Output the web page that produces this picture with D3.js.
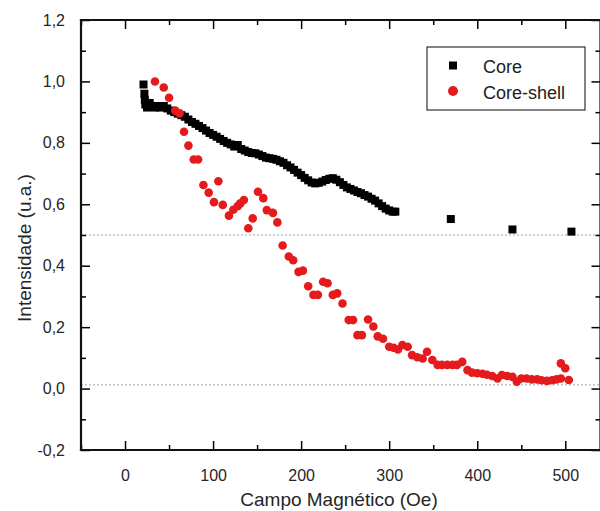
<!DOCTYPE html>
<html>
<head>
<meta charset="utf-8">
<script src="https://cdn.jsdelivr.net/npm/d3@7"></script>
<style>
  body { margin: 0; background: #fff; }
  svg { display: block; font-family: "Liberation Sans", Arial, sans-serif; }
</style>
</head>
<body>
<svg id="chart" width="600" height="511"></svg>
<script>
// Core (squares): [field Oe, intensity]
const coreData = [
  [21, 0.99], [22, 0.96], [22.5, 0.94], [23, 0.925], [25, 0.915], [28, 0.93], [31, 0.92], [34, 0.915],
  [37, 0.92], [40, 0.915], [44, 0.92], [48, 0.912], [52, 0.905], [56, 0.9], [60, 0.895], [64, 0.89],
  [68, 0.885], [72, 0.876], [76, 0.868], [80, 0.862], [84, 0.855], [88, 0.848], [92, 0.84], [96, 0.832],
  [100, 0.826], [104, 0.82], [108, 0.813], [112, 0.806], [116, 0.8], [120, 0.795], [124, 0.788],
  [128, 0.793], [132, 0.78], [136, 0.775], [140, 0.77], [144, 0.767], [148, 0.766], [152, 0.762],
  [156, 0.757], [160, 0.752], [164, 0.75], [168, 0.748], [172, 0.745], [176, 0.74], [180, 0.735],
  [184, 0.727], [188, 0.72], [192, 0.712], [196, 0.703], [200, 0.695], [204, 0.686], [208, 0.678],
  [212, 0.671], [216, 0.668], [220, 0.67], [224, 0.674], [228, 0.679], [232, 0.683], [236, 0.685],
  [240, 0.68], [244, 0.672], [248, 0.663], [252, 0.655], [256, 0.65], [260, 0.645], [264, 0.64],
  [268, 0.636], [272, 0.63], [276, 0.625], [280, 0.618], [284, 0.612], [288, 0.603], [292, 0.594],
  [296, 0.586], [300, 0.58], [304, 0.576], [307, 0.576],
  [370, 0.552], [440, 0.518], [507, 0.511]
];

// Core-shell (circles)
const coreShellData = [
  [34, 1.0], [44, 0.98], [50, 0.947], [57, 0.905], [62, 0.896], [67, 0.836], [72, 0.791],
  [78, 0.746], [83, 0.746], [89, 0.663], [95, 0.638], [101, 0.607], [106, 0.675], [111, 0.598],
  [118, 0.563], [123, 0.582], [128, 0.594], [131, 0.603], [135, 0.614], [140, 0.522], [145, 0.554],
  [151, 0.641], [157, 0.62], [161, 0.581], [168, 0.572], [173, 0.541], [179, 0.466], [186, 0.43],
  [191, 0.418], [197, 0.38], [202, 0.384], [208, 0.333], [214, 0.305], [219, 0.305], [225, 0.348],
  [230, 0.343], [236, 0.305], [241, 0.31], [247, 0.277], [254, 0.223], [259, 0.223], [264, 0.174],
  [269, 0.174], [276, 0.225], [282, 0.202], [287, 0.17], [293, 0.162], [300, 0.136], [305, 0.133],
  [310, 0.127], [315, 0.142], [321, 0.136], [326, 0.109], [332, 0.102], [338, 0.098], [343, 0.12],
  [349, 0.093], [355, 0.077], [360, 0.077], [366, 0.077], [372, 0.077], [377, 0.077], [383, 0.087],
  [389, 0.06], [394, 0.052], [400, 0.05], [406, 0.048], [411, 0.045], [417, 0.041], [423, 0.033],
  [428, 0.044], [434, 0.041], [440, 0.038], [445, 0.022], [450, 0.033], [456, 0.033], [462, 0.03],
  [468, 0.03], [473, 0.027], [479, 0.025], [485, 0.027], [490, 0.03], [495, 0.033], [495, 0.082],
  [500, 0.066], [504, 0.028]
];

const refLines = [0.5, 0.012];
const xTicks = [0, 100, 200, 300, 400, 500];
const xMinor = [-50, 50, 150, 250, 350, 450];
const yTicks = [-0.2, 0, 0.2, 0.4, 0.6, 0.8, 1.0, 1.2];
const yMinor = [-0.1, 0.1, 0.3, 0.5, 0.7, 0.9, 1.1];
const legendItems = ["Core", "Core-shell"];

const red = "#e41a1c";
const ink = "#000000";

const svg = d3.select("#chart");
const plotLeft = 81, plotRight = 600.5, plotTop = 20, plotBottom = 450;

const x = d3.scaleLinear().domain([-50, 540]).range([plotLeft, plotRight]);
const y = d3.scaleLinear().domain([-0.2, 1.2]).range([plotBottom, plotTop]);

const fmt = d => d3.format(".1f")(d).replace(".", ",").replace("\u2212", "-");

// reference dotted lines
svg.append("g")
  .selectAll("line")
  .data(refLines)
  .join("line")
  .attr("x1", plotLeft).attr("x2", plotRight)
  .attr("y1", d => y(d)).attr("y2", d => y(d))
  .attr("stroke", "#9aa3b5")
  .attr("stroke-width", 1)
  .attr("stroke-dasharray", "2,2");

// axes (ticks only, frame drawn separately)
function styleAxis(g) {
  g.select(".domain").remove();
  g.selectAll(".tick line").attr("stroke", ink).attr("stroke-width", 1.5);
  g.selectAll(".tick text").attr("fill", "#262626").attr("font-size", 16)
    .attr("font-family", "Liberation Sans, Arial, sans-serif");
}

svg.append("g")
  .attr("transform", `translate(0, ${plotBottom})`)
  .call(d3.axisBottom(x).tickValues(xTicks).tickSize(-9).tickPadding(20).tickFormat(d3.format("d")))
  .call(styleAxis);
svg.append("g")
  .attr("transform", `translate(0, ${plotBottom})`)
  .call(d3.axisBottom(x).tickValues(xMinor).tickSize(-5).tickFormat(""))
  .call(styleAxis);
svg.append("g")
  .attr("transform", `translate(0, ${plotTop})`)
  .call(d3.axisTop(x).tickValues(xTicks).tickSize(-9).tickFormat(""))
  .call(styleAxis);
svg.append("g")
  .attr("transform", `translate(0, ${plotTop})`)
  .call(d3.axisTop(x).tickValues(xMinor).tickSize(-5).tickFormat(""))
  .call(styleAxis);

svg.append("g")
  .attr("transform", `translate(${plotLeft}, 0)`)
  .call(d3.axisLeft(y).tickValues(yTicks).tickSize(-9).tickPadding(16).tickFormat(fmt))
  .call(styleAxis);
svg.append("g")
  .attr("transform", `translate(${plotLeft}, 0)`)
  .call(d3.axisLeft(y).tickValues(yMinor).tickSize(-5).tickFormat(""))
  .call(styleAxis);
svg.append("g")
  .attr("transform", `translate(${plotRight}, 0)`)
  .call(d3.axisRight(y).tickValues(yTicks).tickSize(-9).tickFormat(""))
  .call(styleAxis);
svg.append("g")
  .attr("transform", `translate(${plotRight}, 0)`)
  .call(d3.axisRight(y).tickValues(yMinor).tickSize(-5).tickFormat(""))
  .call(styleAxis);

// plot frame as separate edges
const frame = [
  [plotLeft, plotTop, plotRight, plotTop],
  [plotLeft, plotBottom, plotRight, plotBottom],
  [plotLeft, plotTop, plotLeft, plotBottom],
  [plotRight, plotTop, plotRight, plotBottom]
];
svg.append("g")
  .selectAll("line")
  .data(frame)
  .join("line")
  .attr("x1", d => d[0]).attr("y1", d => d[1])
  .attr("x2", d => d[2]).attr("y2", d => d[3])
  .attr("stroke", "#111")
  .attr("stroke-width", 2.2)
  .attr("stroke-linecap", "square");

// data
const sq = 8;
svg.append("g")
  .selectAll("rect")
  .data(coreData)
  .join("rect")
  .attr("x", d => x(d[0]) - sq / 2)
  .attr("y", d => y(d[1]) - sq / 2)
  .attr("width", sq).attr("height", sq)
  .attr("fill", "#000");

svg.append("g")
  .selectAll("circle")
  .data(coreShellData)
  .join("circle")
  .attr("cx", d => x(d[0]))
  .attr("cy", d => y(d[1]))
  .attr("r", 4.3)
  .attr("fill", red);

// legend
const legend = svg.append("g").attr("transform", "translate(427, 47)");
legend.append("rect")
  .attr("width", 158).attr("height", 63)
  .attr("fill", "#fff").attr("stroke", "#333").attr("stroke-width", 1.2);
legend.append("rect")
  .attr("x", 26 - 4).attr("y", 18.5 - 4)
  .attr("width", 8).attr("height", 8).attr("fill", "#000");
legend.append("circle")
  .attr("cx", 26).attr("cy", 44).attr("r", 5).attr("fill", red);
legend.selectAll("text")
  .data(legendItems)
  .join("text")
  .attr("x", 56)
  .attr("y", (d, i) => 25.5 + i * 26)
  .attr("font-size", 18)
  .attr("fill", "#222")
  .text(d => d);

// axis titles
svg.append("text")
  .attr("x", 339).attr("y", 506)
  .attr("text-anchor", "middle")
  .attr("font-size", 19)
  .attr("fill", "#262626")
  .text("Campo Magnético (Oe)");

svg.append("text")
  .attr("transform", "translate(31, 248) rotate(-90)")
  .attr("text-anchor", "middle")
  .attr("font-size", 19)
  .attr("fill", "#262626")
  .text("Intensidade (u.a.)");
</script>
</body>
</html>
